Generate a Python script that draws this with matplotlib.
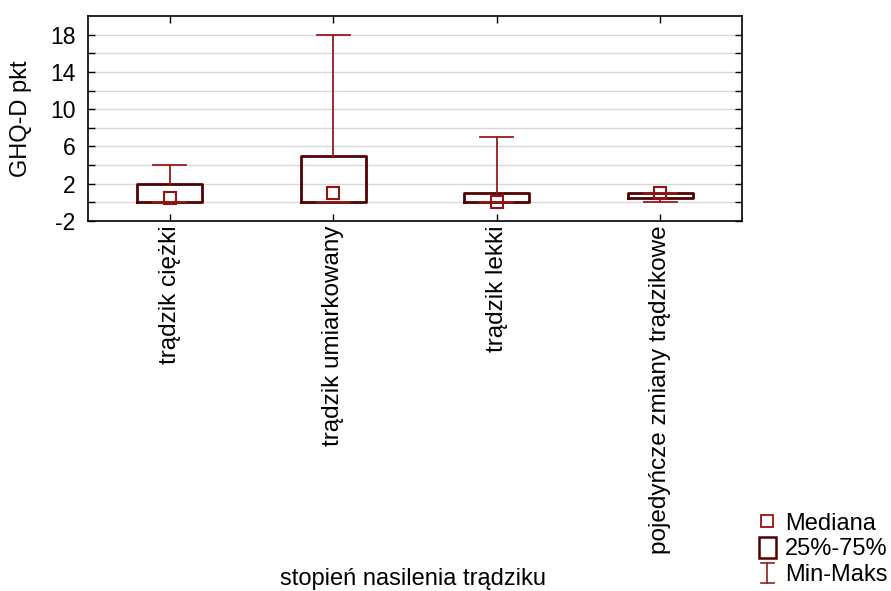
import matplotlib.pyplot as plt
from matplotlib.lines import Line2D
from matplotlib.patches import Rectangle
from matplotlib.legend_handler import HandlerBase

plt.rcParams["font.family"] = ["Liberation Sans", "DejaVu Sans"]
plt.rcParams["axes.unicode_minus"] = False

categories = [
    "trądzik ciężki",
    "trądzik umiarkowany",
    "trądzik lekki",
    "pojedyńcze zmiany trądzikowe",
]
medians = [0.5, 1.0, 0.0, 1.0]
q1 = [0.0, 0.0, 0.0, 0.5]
q3 = [2.0, 5.0, 1.0, 1.0]
mins = [0.0, 0.0, 0.0, 0.0]
maxs = [4.0, 18.0, 7.0, 1.0]

box_color = "#500000"
whisk_color = "#9a1a1a"


class MinMaxHandle:
    pass


class MinMaxHandler(HandlerBase):
    def create_artists(self, legend, orig, xd, yd, width, height, fontsize, trans):
        cx = xd + width / 2
        w = width * 0.6
        y0, y1 = yd - 2, yd + height + 1
        lines = [
            Line2D([cx, cx], [y0, y1], color=whisk_color, lw=1.2),
            Line2D([cx - w / 2, cx + w / 2], [y0, y0], color=whisk_color, lw=1.2),
            Line2D([cx - w / 2, cx + w / 2], [y1, y1], color=whisk_color, lw=1.2),
        ]
        for ln in lines:
            ln.set_transform(trans)
        return lines


class BoxHandler(HandlerBase):
    def create_artists(self, legend, orig, xd, yd, width, height, fontsize, trans):
        w = width * 0.8
        r = Rectangle((xd + (width - w) / 2, yd - 2), w, height + 3,
                      facecolor="white", edgecolor=box_color, lw=1.8, transform=trans)
        return [r]


fig = plt.figure(figsize=(8.91, 5.91), dpi=100)
ax = fig.add_axes([88 / 891, 1 - 221 / 591, (742 - 88) / 891, (221 - 16) / 591])

positions = list(range(len(categories)))
stats = [
    {"med": m, "q1": a, "q3": b, "whislo": lo, "whishi": hi, "fliers": []}
    for m, a, b, lo, hi in zip(medians, q1, q3, mins, maxs)
]
ax.bxp(
    stats,
    positions=positions,
    widths=0.4,
    capwidths=0.2,
    showfliers=False,
    boxprops=dict(color=box_color, linewidth=2.0),
    whiskerprops=dict(color=whisk_color, linewidth=1.3),
    capprops=dict(color=whisk_color, linewidth=1.3),
    medianprops=dict(linestyle="none"),
)
ax.plot(positions, medians, "s", ms=8.5, mfc="none", mec="#991010", mew=1.5, zorder=4)

ax.set_xlim(-0.5, 3.5)
ax.set_ylim(-2, 20)
ax.set_yticks([-2, 2, 6, 10, 14, 18])
ax.set_yticks(range(0, 20, 4), minor=True)
ax.grid(True, axis="y", which="both", color="#d8d8d8", linewidth=1)
ax.set_axisbelow(True)
ax.tick_params(direction="in", which="both", top=True, right=True, length=5,
               labelsize=16.5, width=1)
ax.tick_params(axis="y", pad=9)
ax.set_xticks(positions)
ax.set_xticklabels(categories, rotation=90, fontsize=17.5)
for s in ax.spines.values():
    s.set_linewidth(1.2)

ax.set_ylabel("GHQ-D pkt", fontsize=17)
ax.yaxis.set_label_coords(-56 / 654, 0.5)
fig.text(0.464, 0.01, "stopień nasilenia trądziku", ha="center", fontsize=17)

h_med = Line2D([], [], marker="s", ms=8, mfc="none", mec="#991010", mew=1.3, ls="none")
h_box = Rectangle((0, 0), 1, 1)
h_mm = MinMaxHandle()
fig.legend(
    [h_med, h_box, h_mm],
    ["Mediana", "25%-75%", "Min-Maks"],
    handler_map={Rectangle: BoxHandler(), MinMaxHandle: MinMaxHandler()},
    loc="lower right",
    bbox_to_anchor=(1.02, -0.027),
    frameon=False,
    fontsize=17,
    handlelength=0.9,
    handletextpad=0.3,
    labelspacing=0.15,
)

fig.savefig("out.png", dpi=100)
